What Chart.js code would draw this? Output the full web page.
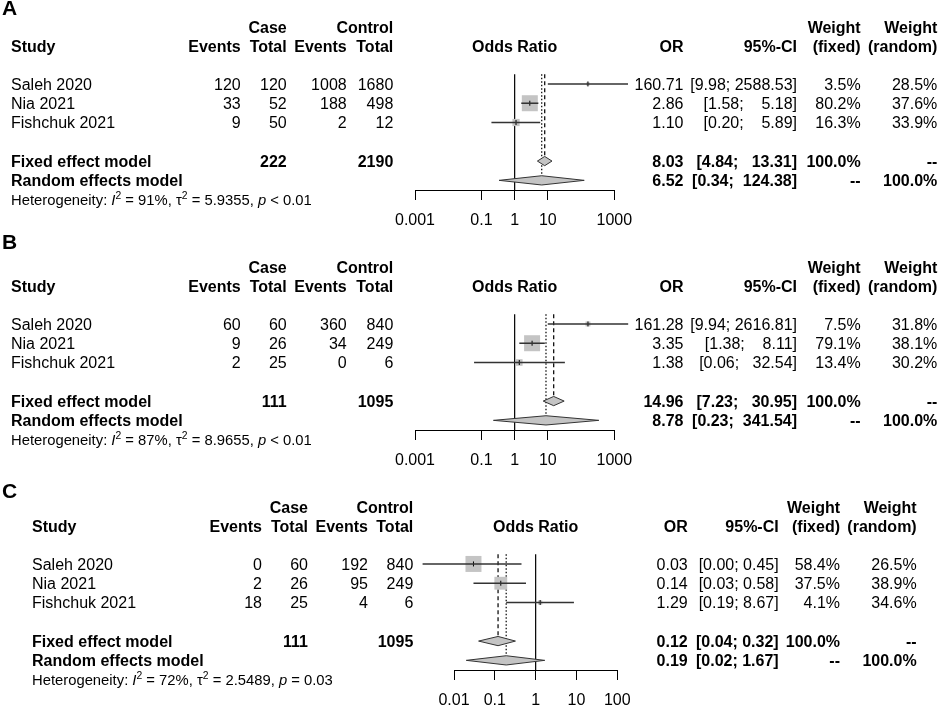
<!DOCTYPE html>
<html>
<head>
<meta charset="utf-8">
<script src="https://cdn.jsdelivr.net/npm/chart.js@4.4.1/dist/chart.umd.min.js"></script>
<style>
  body { margin: 0; background: #fff; overflow: hidden; }
  #page { position: relative; width: 941px; height: 707px; overflow: hidden;
          font-family: "Liberation Sans", Arial, sans-serif; color: #000; }
  .t { position: absolute; white-space: pre; font-size: 16px; line-height: 1; }
  .b { font-weight: bold; }
  .t sup { font-size: 0.7em; line-height: 0; vertical-align: 0.5em; }
  canvas { position: absolute; left: 0; }
</style>
</head>
<body>
<div id="page"></div>
<script>
// ---- data ----
const panelTitles = ['A', 'B', 'C'];
const studyNames = ['Saleh 2020', 'Nia 2021', 'Fishchuk 2021'];

const caseEvents = [[120, 33, 9], [60, 9, 2], [0, 2, 18]];
const caseTotal = [[120, 52, 50], [60, 26, 25], [60, 26, 25]];
const ctrlEvents = [[1008, 188, 2], [360, 34, 0], [192, 95, 4]];
const ctrlTotal = [[1680, 498, 12], [840, 249, 6], [840, 249, 6]];

const oddsRatio = [[160.71, 2.86, 1.10], [161.28, 3.35, 1.38], [0.03, 0.14, 1.29]];
const ciLower = [[9.98, 1.58, 0.20], [9.94, 1.38, 0.06], [0.0017, 0.03, 0.19]];
const ciUpper = [[2588.53, 5.18, 5.89], [2616.81, 8.11, 32.54], [0.45, 0.58, 8.67]];
const weightFixed = [[3.5, 80.2, 16.3], [7.5, 79.1, 13.4], [58.4, 37.5, 4.1]];
const weightRandom = [[28.5, 37.6, 33.9], [31.8, 38.1, 30.2], [26.5, 38.9, 34.6]];

const sumCaseTotal = [222, 111, 111];
const sumCtrlTotal = [2190, 1095, 1095];
const fixedOR = [8.03, 14.96, 0.12];
const fixedLower = [4.84, 7.23, 0.04];
const fixedUpper = [13.31, 30.95, 0.32];
const randomOR = [6.52, 8.78, 0.19];
const randomLower = [0.34, 0.23, 0.02];
const randomUpper = [124.38, 341.54, 1.67];

const hetI2 = ['91%', '87%', '72%'];
const hetTau2 = ['5.9355', '8.9655', '2.5489'];
const hetP = ['&lt; 0.01', '&lt; 0.01', '= 0.03'];

const tickValues = [[0.001, 0.1, 1, 10, 1000], [0.001, 0.1, 1, 10, 1000], [0.01, 0.1, 1, 10, 100]];
const tickLabels = [['0.001', '0.1', '1', '10', '1000'], ['0.001', '0.1', '1', '10', '1000'], ['0.01', '0.1', '1', '10', '100']];

// ---- layout (pixel positions of columns per panel) ----
const layouts = [
  { top: 0, titleY: 7, studyX: 11, colX: [240.7, 286.7, 346.7, 393.3], orX: 683.5, ciX: 797, wfX: 860.7, wrX: 937.3, plotL: 415, plotR: 614.3 },
  { top: 240, titleY: 1, studyX: 11, colX: [240.7, 286.7, 346.7, 393.3], orX: 683.5, ciX: 797, wfX: 860.7, wrX: 937.3, plotL: 415, plotR: 614.3 },
  { top: 480, titleY: 10, studyX: 32, colX: [262, 308, 368, 413.3], orX: 687.7, ciX: 778.7, wfX: 840, wrX: 916.7, plotL: 454, plotR: 617.3 }
];
const hdr1Y = 28.3, hdr2Y = 46.8, studyRowY = [84.8, 104.1, 123.4], fixedRowY = 161.8, randomRowY = 181.1, hetY = 199.8;
const studyRows = [1, 2, 3], fixedRow = 5, randomRow = 6;
const diamondHalf = 0.24;

const page = document.getElementById('page');

function addText(x, y, str, align, bold, size) {
  const d = document.createElement('div');
  d.className = 't' + (bold ? ' b' : '');
  d.innerHTML = str;
  d.style.left = x + 'px';
  d.style.top = y + 'px';
  const tx = align === 'right' ? '-100%' : align === 'center' ? '-50%' : '0';
  d.style.transform = `translate(${tx}, -50%)`;
  if (size) d.style.fontSize = size + 'px';
  page.appendChild(d);
}

const fmt = v => v.toFixed(2);
const pct = v => v.toFixed(1) + '%';

function drawPanel(p) {
  const L = layouts[p];
  const T = L.top;

  // ---- chart ----
  const canvas = document.createElement('canvas');
  canvas.width = 941;
  canvas.height = 240;
  canvas.style.top = T + 'px';
  page.appendChild(canvas);

  const datasets = [];
  const lineBase = { showLine: true, pointRadius: 0, clip: false, fill: false };

  // CI whiskers
  studyRows.forEach((r, i) => {
    datasets.push({ ...lineBase, data: [{ x: ciLower[p][i], y: r }, { x: ciUpper[p][i], y: r }],
      borderColor: '#333', borderWidth: 1.5 });
  });
  // estimate ticks
  datasets.push({ data: studyRows.map((r, i) => ({ x: oddsRatio[p][i], y: r })),
    pointStyle: 'line', rotation: 90, pointRadius: 2.5, pointBorderColor: '#000', pointBorderWidth: 1, clip: false });
  // weight squares
  const wmax = Math.max(...weightFixed[p]);
  datasets.push({ data: studyRows.map((r, i) => ({ x: oddsRatio[p][i], y: r })),
    pointStyle: 'rect', pointRadius: weightFixed[p].map(w => 16 * Math.sqrt(w / wmax) / Math.SQRT2),
    pointBackgroundColor: '#c4c4c4', pointBorderWidth: 0, pointBorderColor: 'rgba(0,0,0,0)', clip: false });
  // summary diamonds
  [[fixedOR, fixedLower, fixedUpper, fixedRow], [randomOR, randomLower, randomUpper, randomRow]].forEach(([est, lo, hi, r]) => {
    datasets.push({ ...lineBase, fill: 'shape', backgroundColor: '#c4c4c4', borderColor: '#333', borderWidth: 1,
      data: [{ x: lo[p], y: r }, { x: est[p], y: r - diamondHalf }, { x: hi[p], y: r },
             { x: est[p], y: r + diamondHalf }, { x: lo[p], y: r }] });
  });
  // reference lines
  datasets.push({ ...lineBase, data: [{ x: 1, y: 0.5 }, { x: 1, y: 6.5 }], borderColor: '#000', borderWidth: 1.2 });
  datasets.push({ ...lineBase, data: [{ x: fixedOR[p], y: 0.5 }, { x: fixedOR[p], y: fixedRow - diamondHalf }],
    borderColor: '#111', borderWidth: 1.3, borderDash: [4, 3] });
  datasets.push({ ...lineBase, data: [{ x: randomOR[p], y: 0.5 }, { x: randomOR[p], y: randomRow - diamondHalf }],
    borderColor: '#111', borderWidth: 1.3, borderDash: [1.5, 2] });

  new Chart(canvas, {
    type: 'scatter',
    data: { datasets },
    options: {
      responsive: false,
      animation: false,
      events: [],
      layout: { padding: { left: L.plotL, right: 941 - L.plotR, top: 74.3, bottom: 0 } },
      plugins: { legend: { display: false }, tooltip: { enabled: false } },
      scales: {
        x: {
          type: 'logarithmic',
          min: tickValues[p][0],
          max: tickValues[p][tickValues[p].length - 1],
          afterBuildTicks: ax => { ax.ticks = tickValues[p].map(v => ({ value: v })); },
          afterFit: ax => { ax.height = 50; },
          grid: { drawOnChartArea: false, drawTicks: true, tickLength: 10, color: '#000', lineWidth: 1 },
          border: { display: true, color: '#000', width: 1 },
          ticks: {
            autoSkip: false, maxRotation: 0, padding: 11, color: '#000',
            font: { family: '"Liberation Sans", Arial, sans-serif', size: 16 },
            callback: (v, i) => tickLabels[p][i]
          }
        },
        y: { type: 'linear', min: 0.5, max: 6.5, reverse: true, display: false }
      }
    }
  });

  // ---- table text ----
  addText(2, T + L.titleY, panelTitles[p], 'left', true, 21);

  addText(L.colX[1], T + hdr1Y, 'Case', 'right', true);
  addText(L.colX[3], T + hdr1Y, 'Control', 'right', true);
  addText(L.wfX, T + hdr1Y, 'Weight', 'right', true);
  addText(L.wrX, T + hdr1Y, 'Weight', 'right', true);

  addText(L.studyX, T + hdr2Y, 'Study', 'left', true);
  ['Events', 'Total', 'Events', 'Total'].forEach((h, k) => addText(L.colX[k], T + hdr2Y, h, 'right', true));
  addText((L.plotL + L.plotR) / 2, T + hdr2Y, 'Odds Ratio', 'center', true);
  addText(L.orX, T + hdr2Y, 'OR', 'right', true);
  addText(L.ciX, T + hdr2Y, '95%-CI', 'right', true);
  addText(L.wfX, T + hdr2Y, '(fixed)', 'right', true);
  addText(L.wrX, T + hdr2Y, '(random)', 'right', true);

  const uppers = ciUpper[p].concat([fixedUpper[p], randomUpper[p]]).map(fmt);
  const upLen = Math.max(...uppers.map(s => s.length));
  const ciText = (lo, hi) => { const h = fmt(hi); return '[' + fmt(lo) + '; ' + ' '.repeat(upLen - h.length) + h + ']'; };

  studyNames.forEach((name, i) => {
    const y = T + studyRowY[i];
    addText(L.studyX, y, name, 'left');
    [caseEvents, caseTotal, ctrlEvents, ctrlTotal].forEach((arr, k) => addText(L.colX[k], y, String(arr[p][i]), 'right'));
    addText(L.orX, y, fmt(oddsRatio[p][i]), 'right');
    addText(L.ciX, y, ciText(ciLower[p][i], ciUpper[p][i]), 'right');
    addText(L.wfX, y, pct(weightFixed[p][i]), 'right');
    addText(L.wrX, y, pct(weightRandom[p][i]), 'right');
  });

  let y = T + fixedRowY;
  addText(L.studyX, y, 'Fixed effect model', 'left', true);
  addText(L.colX[1], y, String(sumCaseTotal[p]), 'right', true);
  addText(L.colX[3], y, String(sumCtrlTotal[p]), 'right', true);
  addText(L.orX, y, fmt(fixedOR[p]), 'right', true);
  addText(L.ciX, y, ciText(fixedLower[p], fixedUpper[p]), 'right', true);
  addText(L.wfX, y, '100.0%', 'right', true);
  addText(L.wrX, y, '--', 'right', true);

  y = T + randomRowY;
  addText(L.studyX, y, 'Random effects model', 'left', true);
  addText(L.orX, y, fmt(randomOR[p]), 'right', true);
  addText(L.ciX, y, ciText(randomLower[p], randomUpper[p]), 'right', true);
  addText(L.wfX, y, '--', 'right', true);
  addText(L.wrX, y, '100.0%', 'right', true);

  addText(L.studyX, T + hetY,
    'Heterogeneity: <i>I</i><sup>2</sup> = ' + hetI2[p] + ', \u03c4<sup>2</sup> = ' + hetTau2[p] + ', <i>p</i> ' + hetP[p],
    'left', false, 14.8);
}

panelTitles.forEach((_, p) => drawPanel(p));
</script>
</body>
</html>
